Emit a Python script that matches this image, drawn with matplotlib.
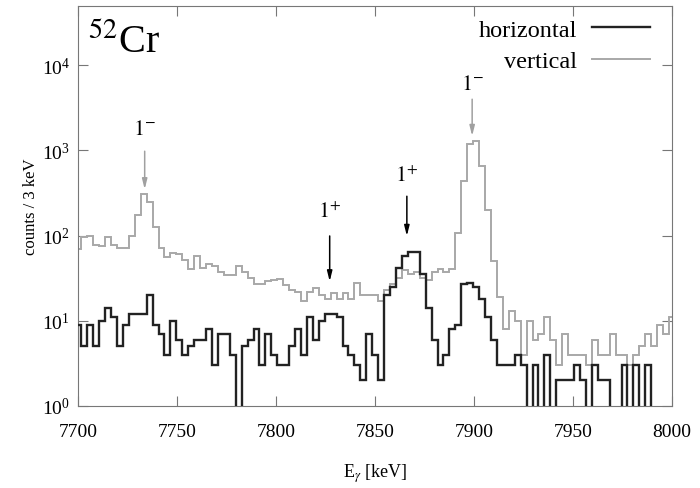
import numpy as np
import matplotlib
matplotlib.use("Agg")
import matplotlib.pyplot as plt
from matplotlib.ticker import LogLocator, LogFormatterMathtext, NullLocator

plt.rcParams['font.family'] = ['Liberation Serif', 'DejaVu Serif']
plt.rcParams['mathtext.fontset'] = 'stix'

# 3 keV bins, first edge just below the axis start
bin_start = 7698.5
bin_width = 3.0

# counts / 3 keV, horizontal polarimeter plane
horizontal = [9, 5, 9, 5, 10, 14, 11, 5, 9, 12,
              12, 12, 20, 9, 7, 4, 10, 6, 4, 5,
              6, 6, 8, 3, 7, 7, 4, 0, 5, 6,
              8, 3, 7, 4, 3, 3, 5, 8, 4, 11,
              6, 10, 12, 12, 11, 5, 4, 3, 2, 7,
              4, 2, 20, 25, 42, 57, 65, 65, 35, 14,
              6, 3, 4, 8, 9, 27, 28, 25, 18, 11,
              6, 3, 3, 3, 4, 3, 0, 3, 0, 4,
              0, 2, 2, 2, 3, 2, 0, 3, 2, 2,
              0, 0, 3, 0, 3, 0, 3, 0, 0, 0, 0]

# counts / 3 keV, vertical polarimeter plane
vertical = [70, 95, 100, 78, 75, 95, 78, 72, 72, 100,
            175, 310, 250, 125, 72, 56, 62, 60, 52, 40,
            57, 42, 47, 44, 37, 34, 34, 44, 37, 32,
            27, 27, 29, 30, 31, 26, 23, 22, 17, 22,
            24, 20, 18, 21, 18, 21, 18, 28, 20, 20,
            20, 17, 23, 27, 32, 39, 35, 37, 32, 30,
            37, 40, 37, 40, 106, 440, 1200, 1300, 660, 200,
            50, 19, 8, 13, 10, 4, 10, 6, 7, 11,
            6, 3, 7, 4, 4, 4, 3, 6, 4, 4,
            7, 4, 4, 3, 4, 5, 7, 5, 9, 7, 11]

# level annotations: label, energy, arrow tail, arrow tip, label height, colour
marks = [("$1^{-}$", 7733.5, 980, 350, 1750, "#a0a0a0"),
         ("$1^{-}$", 7899.0, 4000, 1480, 6000, "#a0a0a0"),
         ("$1^{+}$", 7827.0, 99, 29, 190, "black"),
         ("$1^{+}$", 7866.0, 290, 99, 500, "black")]

edges = bin_start + bin_width * np.arange(len(horizontal) + 1)

fig = plt.figure(figsize=(7.0, 4.89), dpi=100)
ax = fig.add_axes([0.112, 0.168, 0.848, 0.818])

ax.stairs(vertical, edges, baseline=None, color="#a8a8a8", lw=1.4,
          label="vertical", zorder=2)
ax.stairs(horizontal, edges, baseline=None, color="#222222", lw=1.7,
          label="horizontal", zorder=3)

ax.set_yscale("log", nonpositive="clip")
ax.set_xlim(7700, 8000)
ax.set_ylim(1, 5e4)

ax.set_xticks(np.arange(7700, 8001, 50))
ax.yaxis.set_major_locator(LogLocator(base=10, numticks=10))
ax.yaxis.set_major_formatter(LogFormatterMathtext())
ax.yaxis.set_minor_locator(NullLocator())
ax.tick_params(direction="in", top=True, right=True, length=7,
               color="#777777", labelsize=14)
ax.tick_params(axis="x", pad=12)
ax.tick_params(axis="y", pad=6)
for s in ax.spines.values():
    s.set_color("#777777")

ax.set_xlabel(r"E$_{\gamma}$ [keV]", fontsize=13, labelpad=16)
ax.set_ylabel("counts / 3 keV", fontsize=12, labelpad=2)

ax.text(7705, 1.9e4, "$^{52}$Cr", fontsize=29, ha="left", va="center")

for lab, e, y0, y1, yl, col in marks:
    ax.annotate("", xy=(e, y1), xytext=(e, y0),
                arrowprops=dict(arrowstyle="-|>,head_length=0.6,head_width=0.15",
                                color=col, lw=1.1, shrinkA=0, shrinkB=0))
    ax.text(e, yl, lab, fontsize=16, ha="center", va="center")

h, l = ax.get_legend_handles_labels()
leg = ax.legend(h[::-1], l[::-1], loc="upper right", frameon=False,
                bbox_to_anchor=(1.0, 1.022), markerfirst=False, fontsize=17.5,
                handlelength=2.4, labelspacing=0.38, borderaxespad=0.5,
                handletextpad=0.62)

fig.savefig("out.png", dpi=100)
